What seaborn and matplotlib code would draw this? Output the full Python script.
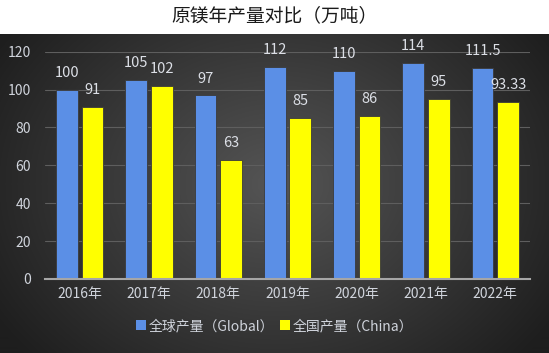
import numpy as np
import pandas as pd
import matplotlib
matplotlib.use("Agg")
import matplotlib.pyplot as plt
import seaborn as sns
from matplotlib.patches import Patch

years = ["2016年", "2017年", "2018年", "2019年", "2020年", "2021年", "2022年"]
global_vals = [100, 105, 97, 112, 110, 114, 111.5]
china_vals = [91, 102, 63, 85, 86, 95, 93.33]
global_labels = ["100", "105", "97", "112", "110", "114", "111.5"]
china_labels = ["91", "102", "63", "85", "86", "95", "93.33"]
series_names = ["全球产量（Global）", "全国产量（China）"]
yticks = [0, 20, 40, 60, 80, 100, 120]

sns.set_theme(style="dark")
plt.rcParams['font.family'] = ['Noto Sans CJK SC', 'DejaVu Sans']

W, H = 549, 353
fig = plt.figure(figsize=(W / 100, H / 100), dpi=100)
fig.patch.set_facecolor("white")

# dark radial gradient background panel
bg = fig.add_axes([0, 0, 1, 1 - 34 / H])
bg.set_axis_off()
yy, xx = np.mgrid[0:320, 0:549]
cx, cy = 275, 150
d = np.sqrt(((xx - cx) / 330.0) ** 2 + ((yy - cy) / 260.0) ** 2)
d = np.clip(d, 0, 1)
c0 = np.array([0x55, 0x55, 0x55]) / 255.0
c1 = np.array([0x1e, 0x1e, 0x1e]) / 255.0
img = c0[None, None, :] * (1 - d[..., None]) + c1[None, None, :] * d[..., None]
bg.imshow(img, aspect="auto", extent=[0, 1, 0, 1], interpolation="bilinear")
bg.set_xlim(0, 1)
bg.set_ylim(0, 1)

df = pd.DataFrame({
    "year": years * 2,
    "value": global_vals + china_vals,
    "series": [series_names[0]] * len(years) + [series_names[1]] * len(years),
})

ax = fig.add_axes([45 / W, 1 - 279 / H, (530 - 45) / W, (279 - 51.7) / H])
ax.patch.set_alpha(0)
palette = {series_names[0]: "#5b8fe6", series_names[1]: "#ffff00"}
sns.barplot(data=df, x="year", y="value", hue="series", palette=palette,
            width=0.74, gap=0.15, ax=ax, legend=False,
            edgecolor="#3a3a3a", linewidth=0.6, saturation=1)

ax.set_ylim(0, 120)
ax.set_yticks(yticks)
ax.set_xlim(-0.5, len(years) - 0.5)
ax.set_xlabel("")
ax.set_ylabel("")
ax.grid(axis="y", color="#5e5e5e", linewidth=0.8)
ax.grid(axis="x", visible=False)
ax.set_axisbelow(True)
for s in ["top", "right", "left"]:
    ax.spines[s].set_visible(False)
ax.spines["bottom"].set_color("#a6a6a6")
ax.spines["bottom"].set_linewidth(1.5)
ax.tick_params(axis="both", colors="#d0d4dc", labelsize=10, length=0)
ax.tick_params(axis="y", pad=10)
ax.tick_params(axis="x", pad=6)

label_sets = [global_labels, china_labels]
for cont, labs in zip(ax.containers, label_sets):
    ax.bar_label(cont, labels=labs, padding=7, color="#dcdfe6", fontsize=10.5)

fig.text(0.5, 1 - 16 / H, "原镁年产量对比（万吨）", ha="center", va="center",
         fontsize=13.5, color="#1a1a1a")

handles = [Patch(facecolor=palette[n], edgecolor="none") for n in series_names]
leg = fig.legend(handles, series_names, loc="center", bbox_to_anchor=(0.5, 1 - 326 / H),
                 ncol=2, frameon=False, fontsize=10, handlelength=0.7, handleheight=0.7,
                 handletextpad=0.2, columnspacing=0.4, labelcolor="#d0d4dc")

fig.savefig("out.png", dpi=100, facecolor=fig.get_facecolor())
